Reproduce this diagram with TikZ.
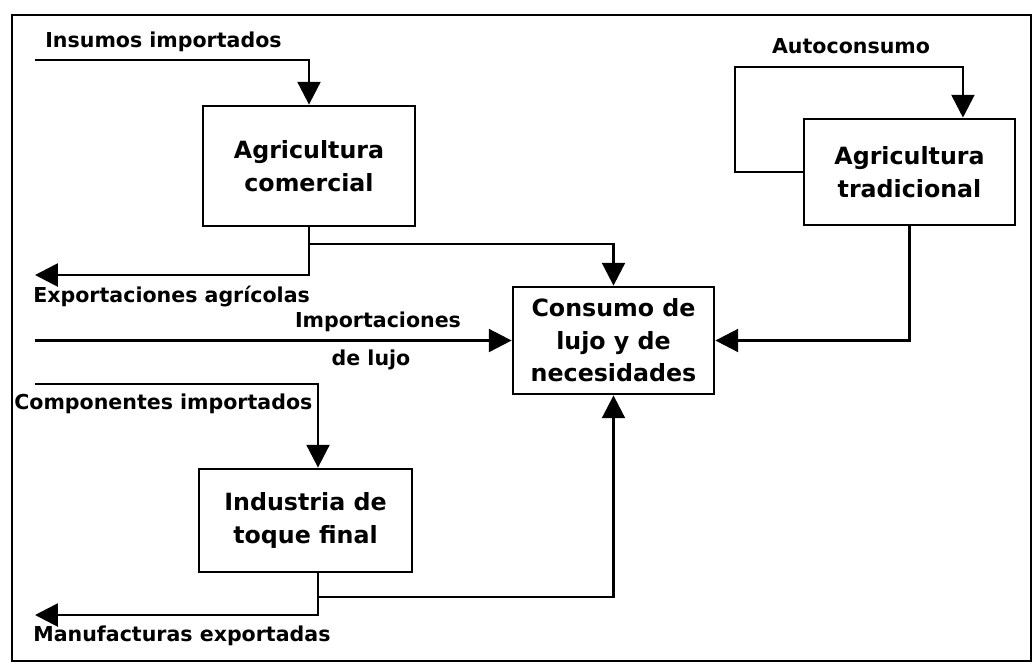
\documentclass[tikz,border=0pt]{standalone}
\usepackage{fontspec}
\setmainfont{DejaVu Sans}
\usetikzlibrary{arrows.meta,calc}
\tikzset{
sector/.style={
	  draw, line width=1.6pt, align=center, font=\bfseries\fontsize{13.5}{18.5}\selectfont},
flow/.style={line width=1.6pt, -{Triangle[length=13pt,width=13pt]}},
tag/.style={font=\bfseries\fontsize{11.7}{14}\selectfont, inner sep=0pt}
}

\begin{document}
\begin{tikzpicture}[x=0.02cm, y=-0.02cm, line join=miter]
	\useasboundingbox (0,0) rectangle (1034,664);
	\draw[line width=1.6pt] (12,15) rectangle (1031,661);
	% sectores
	\node[sector, minimum width=4.24cm, minimum height=2.4cm] (comercial) at (309,166) {Agricultura\\comercial};
	\node[sector, minimum width=4.22cm, minimum height=2.12cm] (tradicional) at (909.5,172) {Agricultura\\tradicional};
	\node[sector, minimum width=4.02cm, minimum height=2.14cm] (consumo) at (613.5,340.5) {Consumo de\\lujo y de\\necesidades};
	\node[sector, minimum width=4.26cm, minimum height=2.06cm] (industria) at (305.5,520.5) {Industria de\\toque final};
	% extremos libres
	\coordinate (insumos) at (35,60);
	\coordinate (exportA) at (35,275);
	\coordinate (ramaA) at (309,244);
	\coordinate (auto) at (735,67);
	\coordinate (lujo) at (35,340.5);
	\coordinate (compon) at (35,384);
	\coordinate (exportM) at (35,615);
	\coordinate (ramaM) at (318,597);
	% flujos
	\draw[flow] (insumos) -| (comercial.north);
	\draw[flow] (comercial.south) |- (exportA);
	\draw[flow] (ramaA) -| (consumo.north);
	\draw[flow] (tradicional.west) -| (auto) -| ($(tradicional.north)!0.5!(tradicional.north east)$);
	\draw[flow] (tradicional.south) |- (consumo.east);
	\draw[flow] (lujo) -- (consumo.west);
	\draw[flow] (compon) -| ([xshift=0.25cm]industria.north);
	\draw[flow] ([xshift=0.25cm]industria.south) |- (exportM);
	\draw[flow] (ramaM) -| (consumo.south);
	% rotulos
	\node[tag, anchor=west] (tInsumos) at (45,42) {Insumos importados};
	\node[tag, anchor=west] (tExportA) at (33,296) {Exportaciones agrícolas};
	\node[tag] (tImport) at (378,322) {Importaciones};
	\node[tag] (tLujo) at (371,360) {de lujo};
	\node[tag, anchor=west] (tCompon) at (14,404) {Componentes importados};
	\node[tag, anchor=west] (tExportM) at (33,636) {Manufacturas exportadas};
	\node[tag] (tAuto) at (851,46) {Autoconsumo};
\end{tikzpicture}
\end{document}
